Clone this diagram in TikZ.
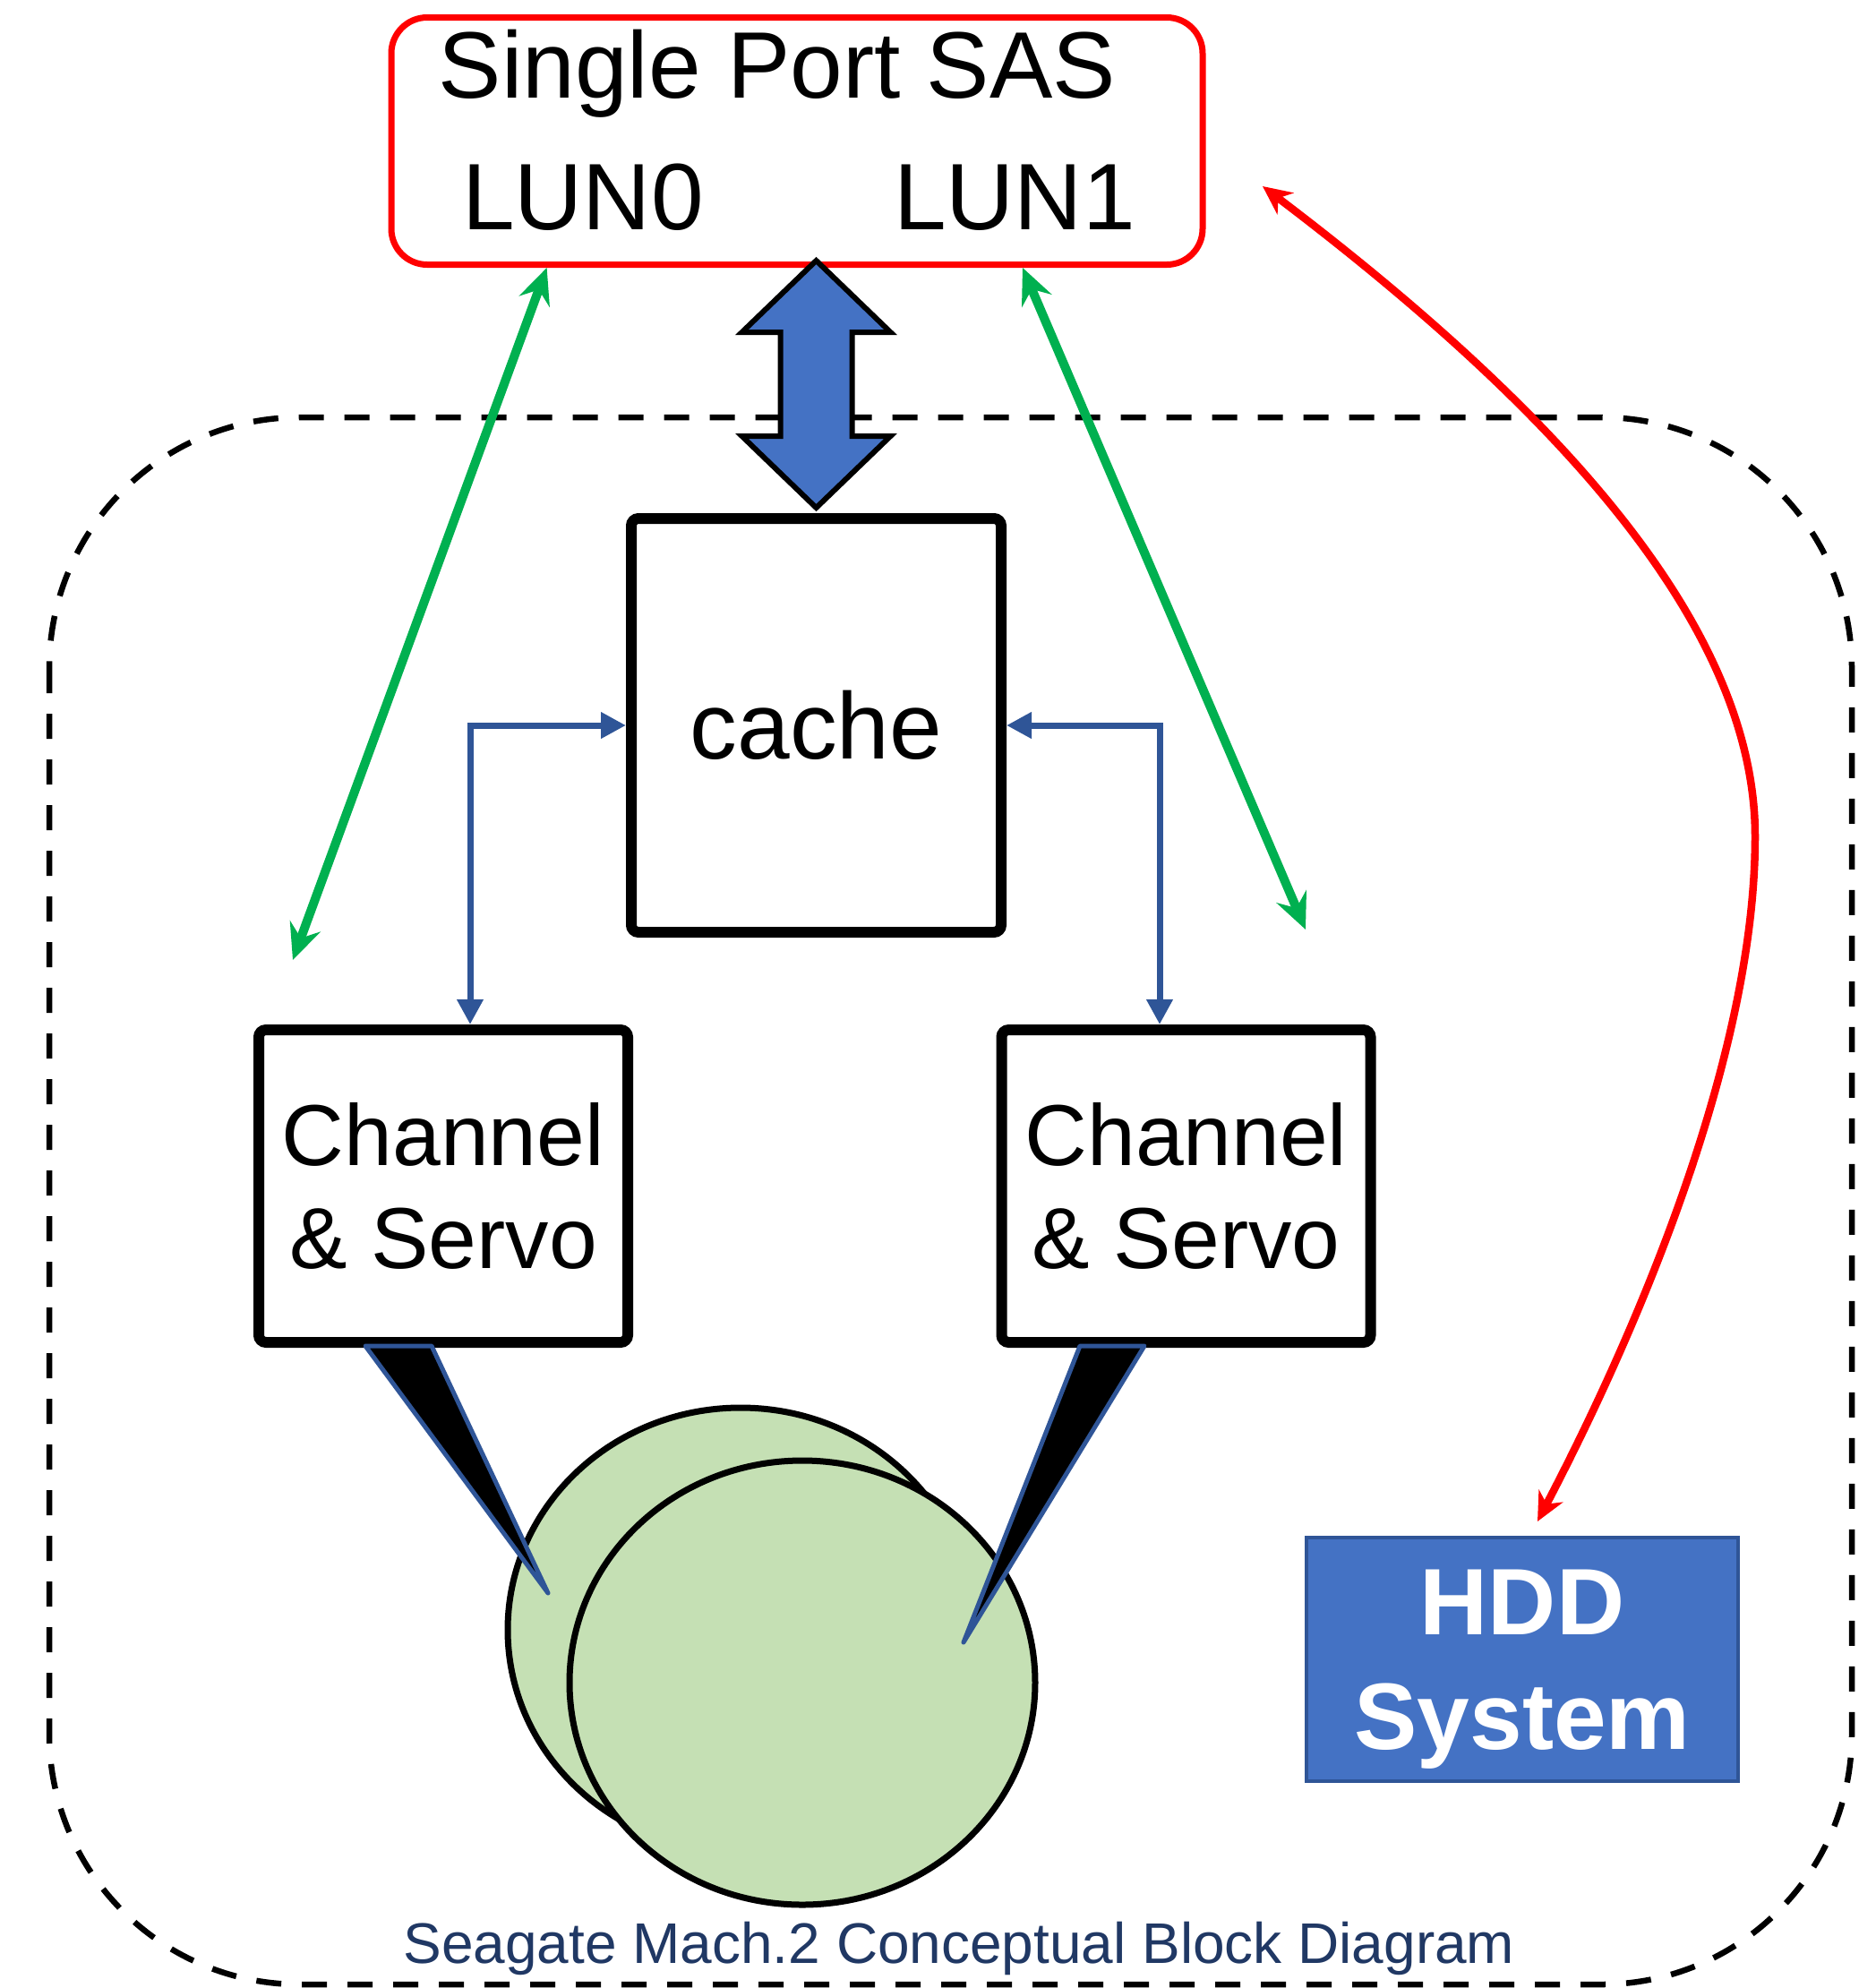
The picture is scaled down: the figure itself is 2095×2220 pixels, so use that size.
\documentclass[tikz,border=0pt]{standalone}
\usepackage{fontspec}
\setmainfont{Liberation Sans}
\usepackage{tikz}
\usetikzlibrary{arrows.meta, positioning, calc}
\definecolor{sasred}{RGB}{255, 0, 0}
\definecolor{lungreen}{RGB}{0, 176, 80}
\definecolor{hddblue}{RGB}{68, 114, 196}
\definecolor{edgeblue}{RGB}{47, 85, 151}
\definecolor{diskgreen}{RGB}{197, 224, 180}
\definecolor{captionblue}{RGB}{32, 56, 100}

\begin{document}
\begin{tikzpicture}[x=0.1mm, y=-0.1mm,
    block/.style={draw, line width=1.2mm, rounded corners=0.8mm, fill=white, inner sep=0pt},
    bigfont/.style={font=\fontsize{30pt}{36pt}\selectfont},
    lunlink/.style={lungreen, line width=1mm, {Stealth[length=4mm, width=3.6mm, inset=1.4mm]}-{Stealth[length=4mm, width=3.6mm, inset=1.4mm]}},
    chlink/.style={edgeblue, line width=0.7mm, {Triangle[length=2.8mm, width=2.8mm]}-{Triangle[length=2.8mm, width=2.8mm]}},
    syslink/.style={sasred, line width=0.85mm, {Stealth[length=3.2mm, width=3mm, inset=1mm]}-{Stealth[length=3.2mm, width=3mm, inset=1mm]}},
    disk/.style={draw, fill=diskgreen, line width=0.7mm},
    wedge/.style={draw=edgeblue, fill=black, line width=0.5mm, line join=round}]
    \useasboundingbox (0,0) rectangle (2095,2220);
    \draw[line width=0.65mm, dash pattern=on 2.8mm off 2.3mm, rounded corners=28mm] (55,466) rectangle (2068,2216);
    \node[draw=sasred, line width=0.7mm, rounded corners=4mm, minimum width=90.6mm, minimum height=27.6mm] (sas) at (890,157.5) {};
    \node[bigfont, anchor=base] (title) at (868,109) {Single Port SAS};
    \node[bigfont, anchor=base] (lun0) at (651,256) {LUN0};
    \node[bigfont, anchor=base] (lun1) at (1133,256) {LUN1};
    \node[block, bigfont, minimum width=41.3mm, minimum height=46.2mm] (cache) at (911.5,810) {cache};
    \draw[fill=hddblue, line width=0.6mm, line join=miter, shift={(cache.north)}]
        (0,-282) -- (83,-202) -- (40,-202) -- (40,-86) -- (83,-86) -- (0,-6)
        -- (-83,-86) -- (-40,-86) -- (-40,-202) -- (-83,-202) -- cycle;
    \node[block, align=center, font=\fontsize{27.5pt}{32.7pt}\selectfont, minimum width=41.2mm, minimum height=34.9mm] (ch0) at (495,1324.5) {Channel\\\& Servo};
    \node[block, align=center, font=\fontsize{27.5pt}{32.7pt}\selectfont, minimum width=41.2mm, minimum height=34.9mm] (ch1) at (1324.5,1324.5) {Channel\\\& Servo};
    \draw[chlink] (cache.west) -| ([xshift=3mm]ch0.north);
    \draw[chlink] (cache.east) -| ([xshift=-2.95mm]ch1.north);
    \draw[disk] (827,1820) ellipse [x radius=26mm, y radius=24.8mm];
    \draw[disk] (896,1879) ellipse [x radius=26mm, y radius=24.8mm];
    \draw[wedge] (408,1503) -- (482,1503) -- (612,1779) -- cycle;
    \draw[wedge] (1206,1503) -- (1278,1503) -- (1076,1834) -- cycle;
    \node[draw=edgeblue, fill=hddblue, line width=0.4mm, text=white, align=center, text depth=0pt,
        font=\bfseries\fontsize{30pt}{36.4pt}\selectfont, minimum width=48.2mm, minimum height=27.2mm] (hdd) at (1700,1853) {HDD\\System};
    \coordinate (lun0end) at (327,1072);
    \coordinate (lun1end) at (1458,1038);
    \draw[lunlink] ($(sas.south west)!0.194!(sas.south east)$) -- (lun0end);
    \draw[lunlink] ($(sas.south west)!0.776!(sas.south east)$) -- (lun1end);
    \coordinate (sysend) at (1410,208);
    \coordinate (hddend) at (1717,1699);
    \draw[syslink] (sysend) .. controls (1741,459) and (1960,700) .. (1960,934)
        .. controls (1960,1180) and (1827,1489) .. (hddend);
    \node[anchor=base, text=captionblue, font=\fontsize{18.2pt}{22pt}\selectfont] (caption) at (1071,2192) {Seagate Mach.2 Conceptual Block Diagram};
\end{tikzpicture}
\end{document}
